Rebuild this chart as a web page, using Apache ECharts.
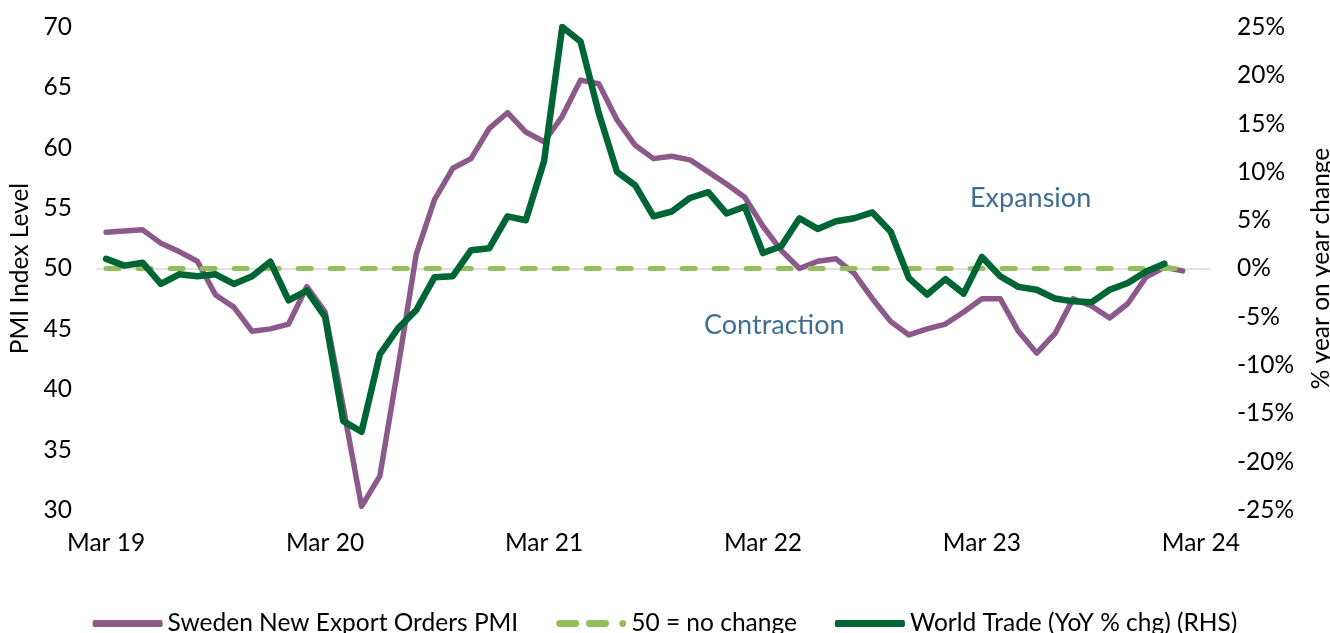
<!DOCTYPE html>
<html>
<head>
<meta charset="utf-8">
<script src="https://cdn.jsdelivr.net/npm/echarts@6/dist/echarts.min.js"></script>
<style>
html,body{margin:0;padding:0;background:#fff;}
#chart{width:1330px;height:633px;}
</style>
</head>
<body>
<div id="chart"></div>
<script>
const categories = [
  'Mar 19','Apr 19','May 19','Jun 19','Jul 19','Aug 19','Sep 19','Oct 19','Nov 19','Dec 19','Jan 20','Feb 20',
  'Mar 20','Apr 20','May 20','Jun 20','Jul 20','Aug 20','Sep 20','Oct 20','Nov 20','Dec 20','Jan 21','Feb 21',
  'Mar 21','Apr 21','May 21','Jun 21','Jul 21','Aug 21','Sep 21','Oct 21','Nov 21','Dec 21','Jan 22','Feb 22',
  'Mar 22','Apr 22','May 22','Jun 22','Jul 22','Aug 22','Sep 22','Oct 22','Nov 22','Dec 22','Jan 23','Feb 23',
  'Mar 23','Apr 23','May 23','Jun 23','Jul 23','Aug 23','Sep 23','Oct 23','Nov 23','Dec 23','Jan 24','Feb 24',
  'Mar 24'
];

const swedenPMI = [
  53.0, 53.1, 53.2, 52.1, 51.4, 50.6, 47.8, 46.8, 44.8, 45.0, 45.4, 48.5,
  46.4, 38.5, 30.3, 32.8, 41.8, 51.2, 55.7, 58.3, 59.1, 61.6, 62.9, 61.3,
  60.5, 62.6, 65.6, 65.3, 62.3, 60.2, 59.1, 59.3, 59.0, 58.0, 57.0, 55.9,
  53.5, 51.5, 50.0, 50.6, 50.8, 49.6, 47.5, 45.6, 44.5, 45.0, 45.4, 46.4,
  47.5, 47.5, 44.8, 43.0, 44.6, 47.5, 46.9, 45.9, 47.1, 49.3, 50.1, 49.8
];

const noChange = [
  50, 50, 50, 50, 50, 50, 50, 50, 50, 50, 50, 50,
  50, 50, 50, 50, 50, 50, 50, 50, 50, 50, 50, 50,
  50, 50, 50, 50, 50, 50, 50, 50, 50, 50, 50, 50,
  50, 50, 50, 50, 50, 50, 50, 50, 50, 50, 50, 50,
  50, 50, 50, 50, 50, 50, 50, 50, 50, 50, 50, 50
];

const worldTrade = [
  1.0, 0.3, 0.6, -1.6, -0.6, -0.8, -0.6, -1.6, -0.8, 0.7, -3.3, -2.3,
  -5.0, -15.8, -16.9, -8.9, -6.2, -4.3, -0.9, -0.8, 1.9, 2.1, 5.4, 5.0,
  11.1, 25.0, 23.5, 16.1, 10.0, 8.6, 5.4, 5.9, 7.3, 7.9, 5.7, 6.4,
  1.6, 2.3, 5.2, 4.1, 4.9, 5.2, 5.8, 3.8, -1.0, -2.7, -1.1, -2.6,
  1.2, -0.8, -1.9, -2.2, -3.1, -3.4, -3.5, -2.2, -1.5, -0.3, 0.5
];

const leftTicks = { min: 30, max: 70, interval: 5 };
const rightTicks = { min: -25, max: 25, interval: 5 };

const FONT = 'Lato';
const TXT = '#000000';
const FS = 24.5;

const PURPLE = '#8c5a8a';
const LIGHTGREEN = '#92bf5c';
const DARKGREEN = '#006534';

const chart = echarts.init(document.getElementById('chart'), null, { renderer: 'canvas' });

chart.setOption({
  animation: false,
  backgroundColor: '#ffffff',
  textStyle: { fontFamily: FONT },
  grid: { left: 97, right: 120, top: 27, bottom: 123, containLabel: false, outerBoundsMode: 'none' },
  legend: {
    top: 606,
    left: 'center',
    itemWidth: 70,
    itemHeight: 7,
    itemGap: 38,
    textStyle: { fontFamily: FONT, fontSize: FS, color: TXT },
    data: [
      { name: 'Sweden New Export Orders PMI', icon: 'roundRect', itemStyle: { color: PURPLE } },
      { name: '50 = no change', icon: 'path://M3,0 H17 A3,3 0 0 1 17,6 H3 A3,3 0 0 1 3,0 Z M29,0 H43 A3,3 0 0 1 43,6 H29 A3,3 0 0 1 29,0 Z M58,0 A3,3 0 0 1 58,6 A3,3 0 0 1 58,0 Z', itemStyle: { color: LIGHTGREEN } },
      { name: 'World Trade (YoY % chg) (RHS)', icon: 'roundRect', itemStyle: { color: DARKGREEN } }
    ]
  },
  xAxis: {
    type: 'category',
    data: categories,
    boundaryGap: true,
    axisLine: { show: true, lineStyle: { color: '#d9d9d9', width: 1.5 } },
    axisTick: { show: false },
    axisLabel: { interval: 11, margin: 21, fontFamily: FONT, fontSize: FS, color: TXT }
  },
  yAxis: [
    {
      type: 'value',
      min: leftTicks.min, max: leftTicks.max, interval: leftTicks.interval,
      name: 'PMI Index Level',
      nameLocation: 'middle',
      nameRotate: 90,
      nameGap: 60,
      nameTextStyle: { fontFamily: FONT, fontSize: FS, color: TXT },
      axisLine: { show: false },
      axisTick: { show: false },
      splitLine: { show: false },
      axisLabel: { margin: 25, fontFamily: FONT, fontSize: FS, color: TXT }
    },
    {
      type: 'value',
      position: 'right',
      min: rightTicks.min, max: rightTicks.max, interval: rightTicks.interval,
      name: '% year on year change',
      nameLocation: 'middle',
      nameRotate: 90,
      nameGap: 99,
      nameTextStyle: { fontFamily: FONT, fontSize: FS, color: TXT },
      axisLine: { show: false },
      axisTick: { show: false },
      splitLine: { show: false },
      axisLabel: { margin: 27, fontFamily: FONT, fontSize: FS, color: TXT, formatter: '{value}%' }
    }
  ],
  series: [
    {
      name: 'Sweden New Export Orders PMI',
      type: 'line',
      yAxisIndex: 0,
      data: swedenPMI,
      showSymbol: false,
      symbol: 'none',
      lineStyle: { color: PURPLE, width: 5.5, join: 'round', cap: 'round' },
      itemStyle: { color: PURPLE },
      z: 2
    },
    {
      name: '50 = no change',
      type: 'line',
      yAxisIndex: 0,
      data: noChange,
      showSymbol: false,
      symbol: 'none',
      lineStyle: { color: LIGHTGREEN, width: 5, type: [13, 19], cap: 'round' },
      itemStyle: { color: LIGHTGREEN },
      z: 3
    },
    {
      name: 'World Trade (YoY % chg) (RHS)',
      type: 'line',
      yAxisIndex: 1,
      data: worldTrade,
      showSymbol: false,
      symbol: 'none',
      lineStyle: { color: DARKGREEN, width: 6.5, join: 'round', cap: 'round' },
      itemStyle: { color: DARKGREEN },
      z: 4
    }
  ],
  graphic: [
    {
      type: 'text', left: 970, top: 185,
      style: { text: 'Expansion', fontFamily: FONT, fontSize: 27, fill: '#3e6f92' }
    },
    {
      type: 'text', left: 704, top: 312,
      style: { text: 'Contraction', fontFamily: FONT, fontSize: 27, fill: '#3e6f92' }
    }
  ]
});
</script>
</body>
</html>
